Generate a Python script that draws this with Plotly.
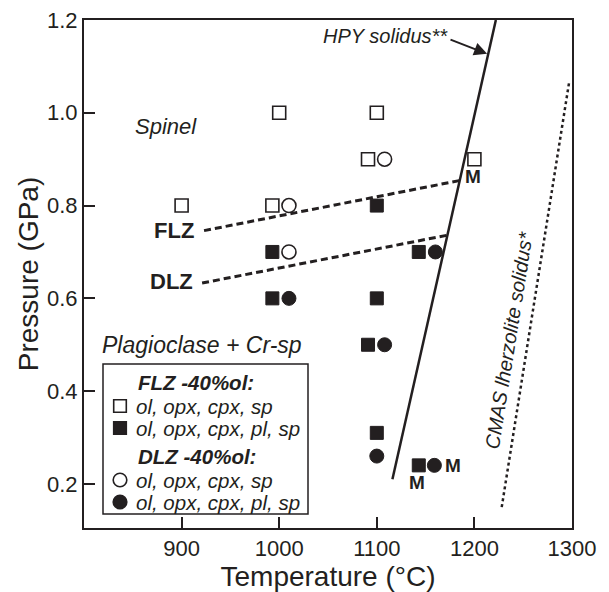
import plotly.graph_objects as go

# ---- data (temperature in °C, pressure in GPa) ----
flz_open_T = [900, 993, 1000, 1091, 1100, 1200]
flz_open_P = [0.80, 0.80, 1.00, 0.90, 1.00, 0.90]

flz_fill_T = [993, 993, 1100, 1100, 1091, 1100, 1143, 1143]
flz_fill_P = [0.70, 0.60, 0.80, 0.60, 0.50, 0.31, 0.70, 0.24]

dlz_open_T = [1010, 1010, 1108]
dlz_open_P = [0.80, 0.70, 0.90]

dlz_fill_T = [1010, 1160, 1108, 1100, 1159]
dlz_fill_P = [0.60, 0.70, 0.50, 0.26, 0.24]

hpy_T = [1116, 1222]
hpy_P = [0.21, 1.20]

cmas_T = [1228, 1297]
cmas_P = [0.15, 1.065]

flz_line_T = [923, 1185]
flz_line_P = [0.746, 0.854]

dlz_line_T = [921, 1172]
dlz_line_P = [0.633, 0.736]

x_ticks = [900, 1000, 1100, 1200, 1300]
y_ticks = [0.2, 0.4, 0.6, 0.8, 1.0, 1.2]

legend_titles = ["FLZ -40%ol:", "DLZ -40%ol:"]
legend_labels = ["ol, opx, cpx, sp", "ol, opx, cpx, pl, sp",
                 "ol, opx, cpx, sp", "ol, opx, cpx, pl, sp"]

INK = "#231f20"
FONT = "Liberation Sans, Arial, Helvetica, sans-serif"

# plot-area geometry (pixels) used for placing the hand-built legend box
W, H = 609, 592
ML, MR, MT, MB = 84, 37, 20, 64
PW, PH = W - ML - MR, H - MT - MB
def px(xp):
    return (xp - ML) / PW
def py(yp):
    return 1 - (yp - MT) / PH

fig = go.Figure()

# boundary lines
fig.add_trace(go.Scatter(x=flz_line_T, y=flz_line_P, mode="lines", showlegend=False,
                         line=dict(color=INK, width=3, dash="7px,4px")))
fig.add_trace(go.Scatter(x=dlz_line_T, y=dlz_line_P, mode="lines", showlegend=False,
                         line=dict(color=INK, width=3, dash="7px,4px")))
fig.add_trace(go.Scatter(x=hpy_T, y=hpy_P, mode="lines", showlegend=False,
                         line=dict(color=INK, width=2.5)))
fig.add_trace(go.Scatter(x=cmas_T, y=cmas_P, mode="lines", showlegend=False,
                         line=dict(color=INK, width=2.5, dash="dot")))

fig.add_trace(go.Scatter(x=flz_open_T, y=flz_open_P, mode="markers", showlegend=False,
                         marker=dict(symbol="square", size=13, color="white",
                                     line=dict(color=INK, width=1.6))))
fig.add_trace(go.Scatter(x=flz_fill_T, y=flz_fill_P, mode="markers", showlegend=False,
                         marker=dict(symbol="square", size=13, color=INK,
                                     line=dict(color=INK, width=1))))
fig.add_trace(go.Scatter(x=dlz_open_T, y=dlz_open_P, mode="markers", showlegend=False,
                         marker=dict(symbol="circle", size=14, color="white",
                                     line=dict(color=INK, width=1.6))))
fig.add_trace(go.Scatter(x=dlz_fill_T, y=dlz_fill_P, mode="markers", showlegend=False,
                         marker=dict(symbol="circle", size=14, color=INK,
                                     line=dict(color=INK, width=1))))

ann = []
def txt(x, y, s, size=20, bold=False, italic=False, xanchor="center", angle=0, ref="x"):
    ann.append(dict(x=x, y=y, xref="x" if ref == "x" else "paper",
                    yref="y" if ref == "x" else "paper", text=s, showarrow=False,
                    xanchor=xanchor, yanchor="middle", textangle=angle,
                    font=dict(family=FONT, size=size, color=INK,
                              weight="bold" if bold else "normal",
                              style="italic" if italic else "normal")))

txt(884, 0.97, "Spinel", size=22, italic=True)
txt(921, 0.499, "Plagioclase + Cr-sp", size=23, italic=True)
txt(915, 0.746, "FLZ", size=22, bold=True, xanchor="right")
txt(914, 0.637, "DLZ", size=22, bold=True, xanchor="right")
txt(1199, 0.862, "M", size=19, bold=True)
txt(1178, 0.240, "M", size=19, bold=True)
txt(1141, 0.203, "M", size=19, bold=True)
txt(1109, 1.166, "HPY solidus**", size=20, italic=True)
txt(1235.5, 0.51, "CMAS lherzolite solidus*", size=20, italic=True, angle=-81)

# arrow to HPY solidus
ann.append(dict(x=1213, y=1.127, ax=1174, ay=1.159, xref="x", yref="y", axref="x", ayref="y",
                text="", showarrow=True, arrowhead=2, arrowsize=1.3, arrowwidth=2, arrowcolor=INK))

# ---- hand-built legend ----
shapes = [dict(type="rect", xref="paper", yref="paper", x0=px(103), x1=px(308),
               y0=py(514), y1=py(364), line=dict(color=INK, width=1.5), fillcolor="white",
               layer="above")]
title_y = [382, 456]
row_y = [406, 428, 480, 502]
row_sym = ["rect", "rect", "circle", "circle"]
row_fill = ["white", INK, "white", INK]
for t, yy in zip(legend_titles, title_y):
    txt(px(136), py(yy), t, size=20.5, bold=True, italic=True, xanchor="left", ref="paper")
for lab, yy, sym, fc in zip(legend_labels, row_y, row_sym, row_fill):
    txt(px(134), py(yy), lab, size=20.5, italic=True, xanchor="left", ref="paper")
    hs = 6.3 if sym == "rect" else 6.8
    shapes.append(dict(type=sym, xref="paper", yref="paper", xsizemode="pixel",
                       ysizemode="pixel", xanchor=px(120), yanchor=py(yy),
                       x0=-hs, x1=hs, y0=-hs, y1=hs, fillcolor=fc,
                       line=dict(color=INK, width=1.6), layer="above"))

fig.update_layout(
    width=W, height=H,
    margin=dict(l=ML, r=MR, t=MT, b=MB),
    paper_bgcolor="white", plot_bgcolor="white",
    font=dict(family=FONT, color=INK),
    annotations=ann, shapes=shapes,
    showlegend=False,
    xaxis=dict(range=[800, 1300], tickvals=x_ticks, ticks="inside", ticklen=11, tickwidth=1.5,
               tickcolor=INK, showline=True, linewidth=2, linecolor=INK, mirror=True,
               showgrid=False, zeroline=False, tickfont=dict(size=22, family=FONT),
               automargin=False,
               title=dict(text="Temperature (°C)", font=dict(size=28, family=FONT), standoff=6)),
    yaxis=dict(range=[0.105, 1.2], tickvals=y_ticks, tickformat=".1f", ticks="inside", ticklen=11,
               tickwidth=1.5, tickcolor=INK, showline=True, linewidth=2, linecolor=INK, mirror=True,
               showgrid=False, zeroline=False, tickfont=dict(size=22, family=FONT),
               automargin=False,
               title=dict(text="Pressure (GPa)", font=dict(size=28, family=FONT), standoff=0)),
)

fig.write_html("out.html", config={"displayModeBar": False},
               post_script="document.body.style.margin='0';")
